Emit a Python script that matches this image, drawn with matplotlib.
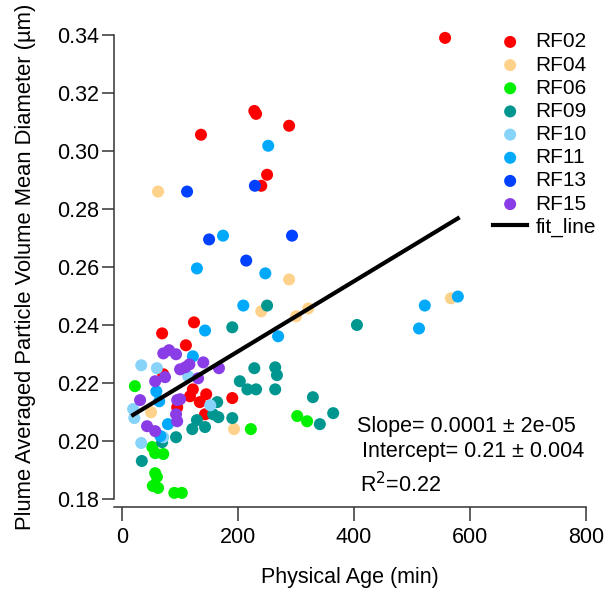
import numpy as np
import matplotlib
matplotlib.use('Agg')
import matplotlib.pyplot as plt

plt.rcParams['font.family'] = ['Liberation Sans', 'DejaVu Sans']

# Physical age (min) and plume averaged volume mean diameter (um) per flight
rf02_x = [69, 71, 95, 110, 117, 122, 124, 134, 136, 143, 145, 190, 228, 231, 240, 250, 288, 557]
rf02_y = [0.2371, 0.2230, 0.2116, 0.2330, 0.2154, 0.2178, 0.2409, 0.2134, 0.3056, 0.2092,
          0.2161, 0.2148, 0.3138, 0.3128, 0.2880, 0.2918, 0.3087, 0.3390]

rf04_x = [50, 62, 193, 240, 288, 300, 321, 567]
rf04_y = [0.2099, 0.2860, 0.2041, 0.2447, 0.2557, 0.2430, 0.2457, 0.2492]

rf06_x = [22, 52, 57, 71, 57, 60, 53, 62, 90, 103, 222, 302, 319]
rf06_y = [0.2189, 0.1979, 0.1958, 0.1955, 0.1889, 0.1876, 0.1845, 0.1838, 0.1821, 0.1821,
          0.2041, 0.2086, 0.2068]

rf09_x = [34, 69, 93, 121, 129, 143, 157, 164, 166, 190, 190, 203, 216, 228, 231, 250,
          264, 267, 264, 329, 341, 364, 405]
rf09_y = [0.1931, 0.1996, 0.2013, 0.2041, 0.2072, 0.2048, 0.2092, 0.2134, 0.2082, 0.2079,
          0.2392, 0.2206, 0.2178, 0.2251, 0.2178, 0.2467, 0.2254, 0.2227, 0.2178, 0.2151,
          0.2058, 0.2096, 0.2400]

rf10_x = [19, 21, 33, 33, 60, 71, 114, 152]
rf10_y = [0.2110, 0.2079, 0.2261, 0.1993, 0.2251, 0.2013, 0.2223, 0.2123]

rf11_x = [59, 64, 66, 79, 122, 129, 143, 174, 209, 247, 252, 269, 512, 522, 579]
rf11_y = [0.2171, 0.2137, 0.2017, 0.2058, 0.2292, 0.2595, 0.2381, 0.2708, 0.2467, 0.2578,
          0.3018, 0.2361, 0.2388, 0.2467, 0.2498]

rf13_x = [112, 150, 214, 229, 293]
rf13_y = [0.2860, 0.2695, 0.2622, 0.2880, 0.2708]

rf15_x = [31, 43, 57, 57, 71, 74, 81, 93, 93, 95, 95, 100, 100, 109, 116, 131, 140, 167]
rf15_y = [0.2141, 0.2051, 0.2034, 0.2206, 0.2302, 0.2220, 0.2313, 0.2299, 0.2092, 0.2068,
          0.2141, 0.2247, 0.2144, 0.2254, 0.2264, 0.2216, 0.2271, 0.2251]

flights = ['RF02', 'RF04', 'RF06', 'RF09', 'RF10', 'RF11', 'RF13', 'RF15']
colors = ['#ff0000', '#ffd28c', '#00f000', '#009690', '#87d3fa', '#00a9fa', '#0040ff', '#8a3de6']
xs = [rf02_x, rf04_x, rf06_x, rf09_x, rf10_x, rf11_x, rf13_x, rf15_x]
ys = [rf02_y, rf04_y, rf06_y, rf09_y, rf10_y, rf11_y, rf13_y, rf15_y]

# linear fit result shown on the chart
fit_slope = 0.000121
fit_intercept = 0.2067

fig = plt.figure(figsize=(6.08, 5.98), dpi=100)
ax = fig.add_axes([0.1875, 0.1656, 0.7763, 0.7759])

for name, c, x, y in zip(flights, colors, xs, ys):
    ax.scatter(x, y, s=75, color=c, edgecolors='none', label=name, clip_on=False, zorder=2)

all_x = np.concatenate([np.array(x) for x in xs])
fit_x = np.array([all_x.min(), all_x.max()])
ax.plot(fit_x, fit_intercept + fit_slope * fit_x, color='black', lw=3, label='fit_line', zorder=3)

ax.set_xlim(-14, 800)
ax.set_ylim(0.18, 0.34)
ax.set_xticks([0, 200, 400, 600, 800])
ax.set_yticks(np.arange(0.18, 0.3401, 0.02))
ax.set_yticklabels(['%.2f' % v for v in np.arange(0.18, 0.3401, 0.02)])

for s in ['top', 'right']:
    ax.spines[s].set_visible(False)
for s in ['left', 'bottom']:
    ax.spines[s].set_color('#333333')
    ax.spines[s].set_linewidth(1.1)
ax.spines['bottom'].set_position(('outward', 6))

ax.tick_params(axis='y', direction='out', length=8.5, width=1.1, color='#333333',
               labelsize=15.5, pad=2)
ax.tick_params(axis='x', direction='out', length=10, width=1.1, color='#333333',
               labelsize=15.5, pad=4)

ax.set_xlabel('Physical Age (min)', fontsize=15.5, labelpad=14)
ax.set_ylabel('Plume Averaged Particle Volume Mean Diameter (\u00b5m)', fontsize=15.8, labelpad=15)

ax.legend(loc='upper left', bbox_to_anchor=(0.772, 1.037), frameon=False, fontsize=15,
          labelspacing=0.2, handlelength=1.65, handletextpad=0.38, markerscale=1.0,
          borderpad=0.2)

ax.text(405, 0.2051, 'Slope= 0.0001 \u00b1 2e-05', fontsize=15.5, va='center')
ax.text(414, 0.1962, 'Intercept= 0.21 \u00b1 0.004', fontsize=15.5, va='center')
ax.text(410, 0.1849, 'R$^2$=0.22', fontsize=15.5, va='center')

fig.savefig('out.png', dpi=100)
